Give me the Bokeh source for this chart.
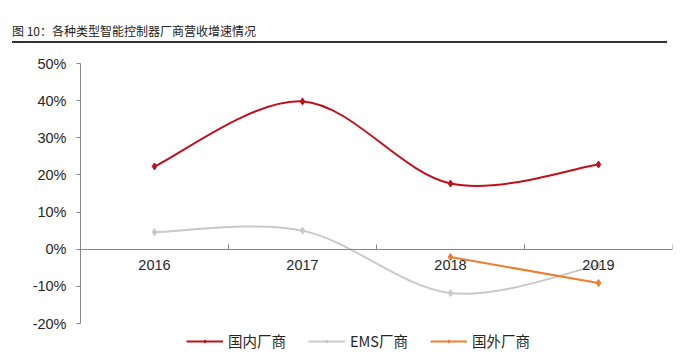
from bokeh.plotting import figure
from bokeh.models import (Range1d, FixedTicker, NumeralTickFormatter, Legend,
                          LegendItem, Div)
from bokeh.layouts import column
from bokeh.embed import file_html
from bokeh.resources import INLINE

# ---- data ----
years = ["2016", "2017", "2018", "2019"]
domestic = [0.223, 0.398, 0.177, 0.228]      # 国内厂商
ems = [0.046, 0.050, -0.118, -0.043]         # EMS厂商
foreign_years = ["2018", "2019"]
foreign = [-0.021, -0.091]                   # 国外厂商
y_ticks = [-0.2, -0.1, 0.0, 0.1, 0.2, 0.3, 0.4, 0.5]
y_min, y_max = -0.2, 0.5
title_text = "图 10：各种类型智能控制器厂商营收增速情况"

RED = "#C0101E"
GRAY = "#C9C9C9"
ORANGE = "#ED7D31"
AXIS = "#868686"
TXT = "#262626"

# layout (pixels)
FIG_H = 303
BORDER_TOP = 15
AXIS_PX = 260          # pixel height of the y axis span (-20%..50%)
LEGEND_ROOM = FIG_H - BORDER_TOP - AXIS_PX   # frame space kept under the axis for the legend


def xpos(cats):
    return [years.index(c) + 0.5 for c in cats]


def smooth_segments(xs, ys):
    """Catmull-Rom style bezier control points (Excel-like smoothing)."""
    n = len(xs)
    out = dict(x0=[], y0=[], x1=[], y1=[], cx0=[], cy0=[], cx1=[], cy1=[])
    for i in range(n - 1):
        pi = i - 1 if i > 0 else i
        ni = i + 2 if i + 2 < n else i + 1
        out["x0"].append(xs[i]); out["y0"].append(ys[i])
        out["x1"].append(xs[i + 1]); out["y1"].append(ys[i + 1])
        out["cx0"].append(xs[i] + (xs[i + 1] - xs[pi]) / 6)
        out["cy0"].append(ys[i] + (ys[i + 1] - ys[pi]) / 6)
        out["cx1"].append(xs[i + 1] - (xs[ni] - xs[i]) / 6)
        out["cy1"].append(ys[i + 1] - (ys[ni] - ys[i]) / 6)
    return out


range_low = y_min - LEGEND_ROOM * (y_max - y_min) / AXIS_PX

p = figure(width=678, height=FIG_H, output_backend="svg", toolbar_location=None,
           x_range=Range1d(0, 4), y_range=Range1d(range_low, y_max),
           min_border_left=80, min_border_right=6, min_border_top=BORDER_TOP,
           min_border_bottom=0)
p.outline_line_color = None
p.xgrid.visible = False
p.ygrid.visible = False
p.background_fill_color = "white"
p.border_fill_color = "white"

# y axis
ya = p.yaxis[0]
ya.ticker = FixedTicker(ticks=y_ticks)
ya.bounds = (y_min, y_max)
ya.formatter = NumeralTickFormatter(format="0%")
ya.axis_line_color = AXIS
ya.major_tick_line_color = AXIS
ya.major_tick_out = 4
ya.major_tick_in = 0
ya.minor_tick_line_color = None
ya.major_label_standoff = 10
ya.major_label_text_font = "Liberation Sans"
ya.major_label_text_font_size = "14.5px"
ya.major_label_text_color = TXT

# x axis at 0
xa = p.xaxis[0]
xa.fixed_location = 0
xa.ticker = FixedTicker(ticks=xpos(years), minor_ticks=[0, 1, 2, 3, 4])
xa.major_label_overrides = {x: y for x, y in zip(xpos(years), years)}
xa.axis_line_color = AXIS
xa.major_tick_line_color = None
xa.major_tick_in = 0
xa.major_tick_out = 0
xa.minor_tick_line_color = AXIS
xa.minor_tick_in = 5
xa.minor_tick_out = 0
xa.major_label_standoff = 11
xa.major_label_text_font = "Liberation Sans"
xa.major_label_text_font_size = "14.5px"
xa.major_label_text_color = TXT

# series
dx = xpos(years)
r_dom = p.bezier(source=smooth_segments(dx, domestic), x0="x0", y0="y0", x1="x1",
                 y1="y1", cx0="cx0", cy0="cy0", cx1="cx1", cy1="cy1",
                 line_color=RED, line_width=2)
s_dom = p.scatter(dx, domestic, marker="diamond", size=7, color=RED)

r_ems = p.bezier(source=smooth_segments(dx, ems), x0="x0", y0="y0", x1="x1",
                 y1="y1", cx0="cx0", cy0="cy0", cx1="cx1", cy1="cy1",
                 line_color=GRAY, line_width=2)
s_ems = p.scatter(dx, ems, marker="diamond", size=7, color=GRAY)

fx = xpos(foreign_years)
r_for = p.line(fx, foreign, line_color=ORANGE, line_width=2)
s_for = p.scatter(fx, foreign, marker="diamond", size=7, color=ORANGE)

legend = Legend(items=[
    LegendItem(label="国内厂商", renderers=[r_dom, s_dom]),
    LegendItem(label="EMS厂商", renderers=[r_ems, s_ems]),
    LegendItem(label="国外厂商", renderers=[r_for, s_for]),
], orientation="horizontal", location=(106, 0))
legend.border_line_color = None
legend.background_fill_alpha = 0
legend.padding = 0
legend.margin = 0
legend.spacing = 22
legend.glyph_width = 37
legend.glyph_height = 8
legend.label_height = 8
legend.label_standoff = 5
legend.label_text_font = "Noto Sans CJK SC"
legend.label_text_font_size = "14.5px"
legend.label_text_color = TXT
p.add_layout(legend)

title = Div(text=(
    f'<div style="margin-left:7px;width:655px;padding-top:18px;padding-bottom:2px;'
    f'line-height:16px;border-bottom:2px solid #333;font-family:\'Noto Sans CJK SC\';'
    f'font-size:12px;color:#222;white-space:nowrap">{title_text}</div>'),
    width=670, height=38)

layout = column(title, p, spacing=0)
open("out.html", "w").write(file_html(layout, INLINE))
